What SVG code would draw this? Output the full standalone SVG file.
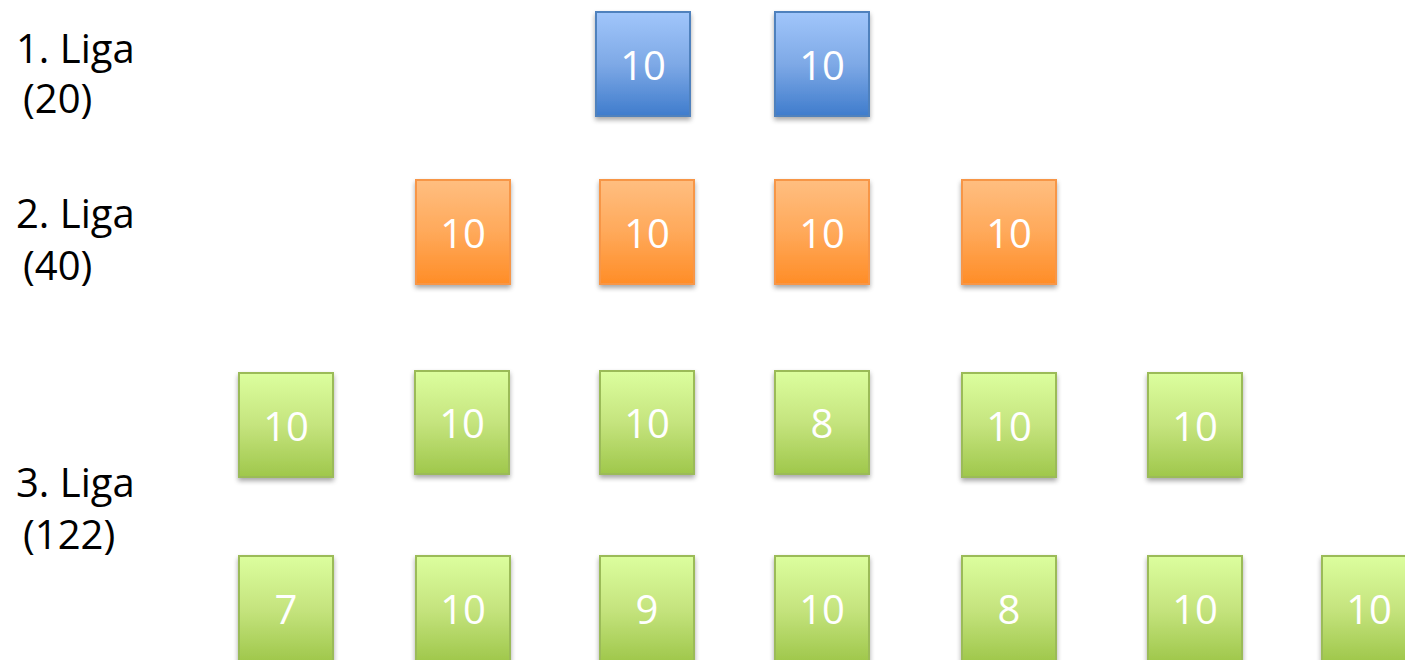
<svg xmlns="http://www.w3.org/2000/svg" width="1405" height="660" viewBox="0 0 1405 660">
<style>
.lbl{font-family:"Open Sans","Liberation Sans",sans-serif;font-size:40px;fill:#000}
.num{font-family:"Open Sans","Liberation Sans",sans-serif;font-size:40px;fill:#fff;text-anchor:middle}
.b{fill:url(#gb);stroke:#4f81bd;stroke-width:2;filter:url(#sh)}
.o{fill:url(#go);stroke:#f79646;stroke-width:2;filter:url(#sh)}
.g{fill:url(#gg);stroke:#9bbb59;stroke-width:2;filter:url(#sh)}
</style>
<defs>
<linearGradient id="gb" x1="0" y1="0" x2="0" y2="1"><stop offset="0" stop-color="#a1c6fb"/><stop offset="0.5" stop-color="#7ea9e6"/><stop offset="1" stop-color="#3f7ccc"/></linearGradient>
<linearGradient id="go" x1="0" y1="0" x2="0" y2="1"><stop offset="0" stop-color="#ffbe80"/><stop offset="0.5" stop-color="#ffa95a"/><stop offset="1" stop-color="#ff8d27"/></linearGradient>
<linearGradient id="gg" x1="0" y1="0" x2="0" y2="1"><stop offset="0" stop-color="#dcfe9e"/><stop offset="0.5" stop-color="#c5e47e"/><stop offset="1" stop-color="#9fc74b"/></linearGradient>
<filter id="sh" x="-20%" y="-20%" width="140%" height="140%"><feGaussianBlur in="SourceAlpha" stdDeviation="2.5"/><feOffset dx="0" dy="3" result="o"/><feComponentTransfer><feFuncA type="linear" slope="0.35"/></feComponentTransfer><feMerge><feMergeNode/><feMergeNode in="SourceGraphic"/></feMerge></filter>
</defs>
<g id="labels">
<text class="lbl" x="16" y="63">1. Liga</text>
<text class="lbl" x="23" y="113">(20)</text>
<text class="lbl" x="16" y="228">2. Liga</text>
<text class="lbl" x="23" y="280">(40)</text>
<text class="lbl" x="16" y="497">3. Liga</text>
<text class="lbl" x="23" y="549">(122)</text>
</g>
<g id="liga1">
<g id="b1"><rect class="b" x="596" y="12" width="94" height="104"/><text class="num" x="643" y="80">10</text></g>
<g id="b2"><rect class="b" x="775" y="12" width="94" height="104"/><text class="num" x="822" y="80">10</text></g>
</g>
<g id="liga2">
<g id="o1"><rect class="o" x="416" y="180" width="94" height="104"/><text class="num" x="463" y="248">10</text></g>
<g id="o2"><rect class="o" x="600" y="180" width="94" height="104"/><text class="num" x="647" y="248">10</text></g>
<g id="o3"><rect class="o" x="775" y="180" width="94" height="104"/><text class="num" x="822" y="248">10</text></g>
<g id="o4"><rect class="o" x="962" y="180" width="94" height="104"/><text class="num" x="1009" y="248">10</text></g>
</g>
<g id="liga3a">
<g id="g1"><rect class="g" x="239" y="373" width="94" height="104"/><text class="num" x="286" y="441">10</text></g>
<g id="g2"><rect class="g" x="415" y="371" width="94" height="103"/><text class="num" x="462" y="438">10</text></g>
<g id="g3"><rect class="g" x="600" y="371" width="94" height="103"/><text class="num" x="647" y="438">10</text></g>
<g id="g4"><rect class="g" x="775" y="371" width="94" height="103"/><text class="num" x="822" y="438">8</text></g>
<g id="g5"><rect class="g" x="962" y="373" width="94" height="104"/><text class="num" x="1009" y="441">10</text></g>
<g id="g6"><rect class="g" x="1148" y="373" width="94" height="104"/><text class="num" x="1195" y="441">10</text></g>
</g>
<g id="liga3b">
<g id="h1"><rect class="g" x="239" y="556" width="94" height="106"/><text class="num" x="286" y="624">7</text></g>
<g id="h2"><rect class="g" x="416" y="556" width="94" height="106"/><text class="num" x="463" y="624">10</text></g>
<g id="h3"><rect class="g" x="600" y="556" width="94" height="106"/><text class="num" x="647" y="624">9</text></g>
<g id="h4"><rect class="g" x="775" y="556" width="94" height="106"/><text class="num" x="822" y="624">10</text></g>
<g id="h5"><rect class="g" x="962" y="556" width="94" height="106"/><text class="num" x="1009" y="624">8</text></g>
<g id="h6"><rect class="g" x="1148" y="556" width="94" height="106"/><text class="num" x="1195" y="624">10</text></g>
<g id="h7"><rect class="g" x="1322" y="556" width="94" height="106"/><text class="num" x="1369" y="624">10</text></g>
</g>
<g id="connectors"/>
</svg>
